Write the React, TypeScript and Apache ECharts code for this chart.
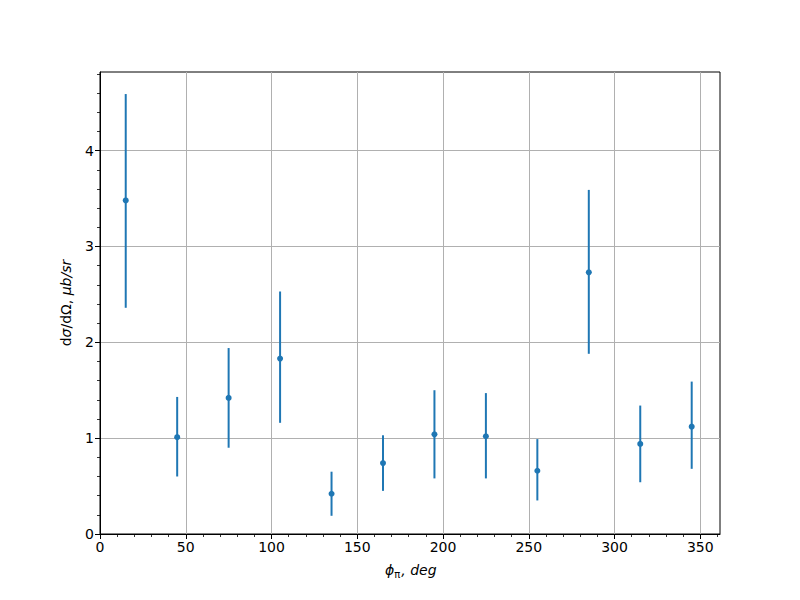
import React, { useEffect, useRef } from "react";
import * as echarts from "echarts";

const phi = [15, 45, 75, 105, 135, 165, 195, 225, 255, 285, 315, 345];
const values = [3.48, 1.01, 1.42, 1.83, 0.42, 0.74, 1.04, 1.02, 0.66, 2.73, 0.94, 1.12];
const lower = [2.36, 0.60, 0.90, 1.16, 0.19, 0.45, 0.58, 0.58, 0.35, 1.88, 0.54, 0.68];
const upper = [4.59, 1.43, 1.94, 2.53, 0.65, 1.03, 1.50, 1.47, 0.99, 3.59, 1.34, 1.59];
const xMajor = [0, 50, 100, 150, 200, 250, 300, 350];
const xMinor = [10, 20, 30, 40, 60, 70, 80, 90, 110, 120, 130, 140, 160, 170, 180, 190, 210, 220, 230, 240, 260, 270, 280, 290, 310, 320, 330, 340, 360];
const yMajor = [0, 1, 2, 3, 4];
const yMinor = [0.2, 0.4, 0.6, 0.8, 1.2, 1.4, 1.6, 1.8, 2.2, 2.4, 2.6, 2.8, 3.2, 3.4, 3.6, 3.8, 4.2, 4.4, 4.6, 4.8];

const X_MAX = 361.5;
const Y_MAX = 4.82;
const COLOR = "#1f77b4";
const FONT = "DejaVu Sans";

export default function App() {
  const ref = useRef<HTMLDivElement>(null);
  useEffect(() => {
    if (!ref.current) return;
    const chart = echarts.init(ref.current, null, { renderer: "svg" });
    const labelStyle = { color: "#000", fontFamily: FONT, fontSize: 14 };
    chart.setOption({
      animation: false,
      backgroundColor: "#fff",
      grid: {
        left: 100, right: 80, top: 72, bottom: 66,
        show: true, borderColor: "#000", borderWidth: 1, backgroundColor: "transparent",
      },
      xAxis: [
        {
          type: "value", min: 0, max: X_MAX, position: "bottom",
          axisLine: { show: true, onZero: false, lineStyle: { color: "#000", width: 1 } },
          axisTick: { show: true, customValues: xMajor, length: 5, lineStyle: { color: "#000", width: 1 } },
          axisLabel: { show: true, customValues: xMajor, margin: 6, ...labelStyle },
          splitLine: { show: true, lineStyle: { color: "#b0b0b0", width: 1 } },
        },
        {
          type: "value", min: 0, max: X_MAX, position: "bottom",
          axisLine: { show: false },
          axisTick: { show: true, customValues: xMinor, length: 3, lineStyle: { color: "#000", width: 0.8 } },
          axisLabel: { show: false },
          splitLine: { show: false },
        },
      ],
      yAxis: [
        {
          type: "value", min: 0, max: Y_MAX, position: "left",
          axisLine: { show: true, onZero: false, lineStyle: { color: "#000", width: 1 } },
          axisTick: { show: true, customValues: yMajor, length: 5, lineStyle: { color: "#000", width: 1 } },
          axisLabel: { show: true, customValues: yMajor, margin: 6, ...labelStyle },
          splitLine: { show: true, lineStyle: { color: "#b0b0b0", width: 1 } },
        },
        {
          type: "value", min: 0, max: Y_MAX, position: "left",
          axisLine: { show: false },
          axisTick: { show: true, customValues: yMinor, length: 3, lineStyle: { color: "#000", width: 0.8 } },
          axisLabel: { show: false },
          splitLine: { show: false },
        },
      ],
      graphic: [
        {
          type: "text", left: 385, top: 563,
          style: {
            text: "{i|ϕ}{s|π}{i|, deg}",
            fill: "#000",
            rich: {
              i: { fontFamily: FONT, fontStyle: "italic", fontSize: 14, fill: "#000" },
              s: { fontFamily: FONT, fontSize: 10, fill: "#000", padding: [8, 1, 0, 0] },
            },
          },
        },
        {
          type: "text", x: 66, y: 303, rotation: Math.PI / 2,
          style: {
            text: "{u|d}{i|σ}{u|/dΩ, }{i|μb/sr}",
            align: "center", verticalAlign: "middle",
            fill: "#000",
            rich: {
              u: { fontFamily: FONT, fontSize: 14, fill: "#000" },
              i: { fontFamily: FONT, fontStyle: "italic", fontSize: 14, fill: "#000" },
            },
          },
        },
      ],
      series: [
        {
          type: "custom",
          xAxisIndex: 0, yAxisIndex: 0,
          data: phi.map((p, i) => [p, lower[i], upper[i]]),
          renderItem: (params: any, api: any) => {
            const a = api.coord([api.value(0), api.value(1)]);
            const b = api.coord([api.value(0), api.value(2)]);
            return {
              type: "line",
              shape: { x1: a[0], y1: a[1], x2: b[0], y2: b[1] },
              style: { stroke: COLOR, lineWidth: 2 },
            };
          },
          z: 2,
        },
        {
          type: "scatter",
          xAxisIndex: 0, yAxisIndex: 0,
          data: phi.map((p, i) => [p, values[i]]),
          symbol: "circle", symbolSize: 6,
          itemStyle: { color: COLOR, opacity: 1 },
          z: 3,
        },
      ],
    });
    return () => chart.dispose();
  }, []);
  return <div ref={ref} style={{ width: 800, height: 600, position: "absolute", left: 0, top: 0 }} />;
}
